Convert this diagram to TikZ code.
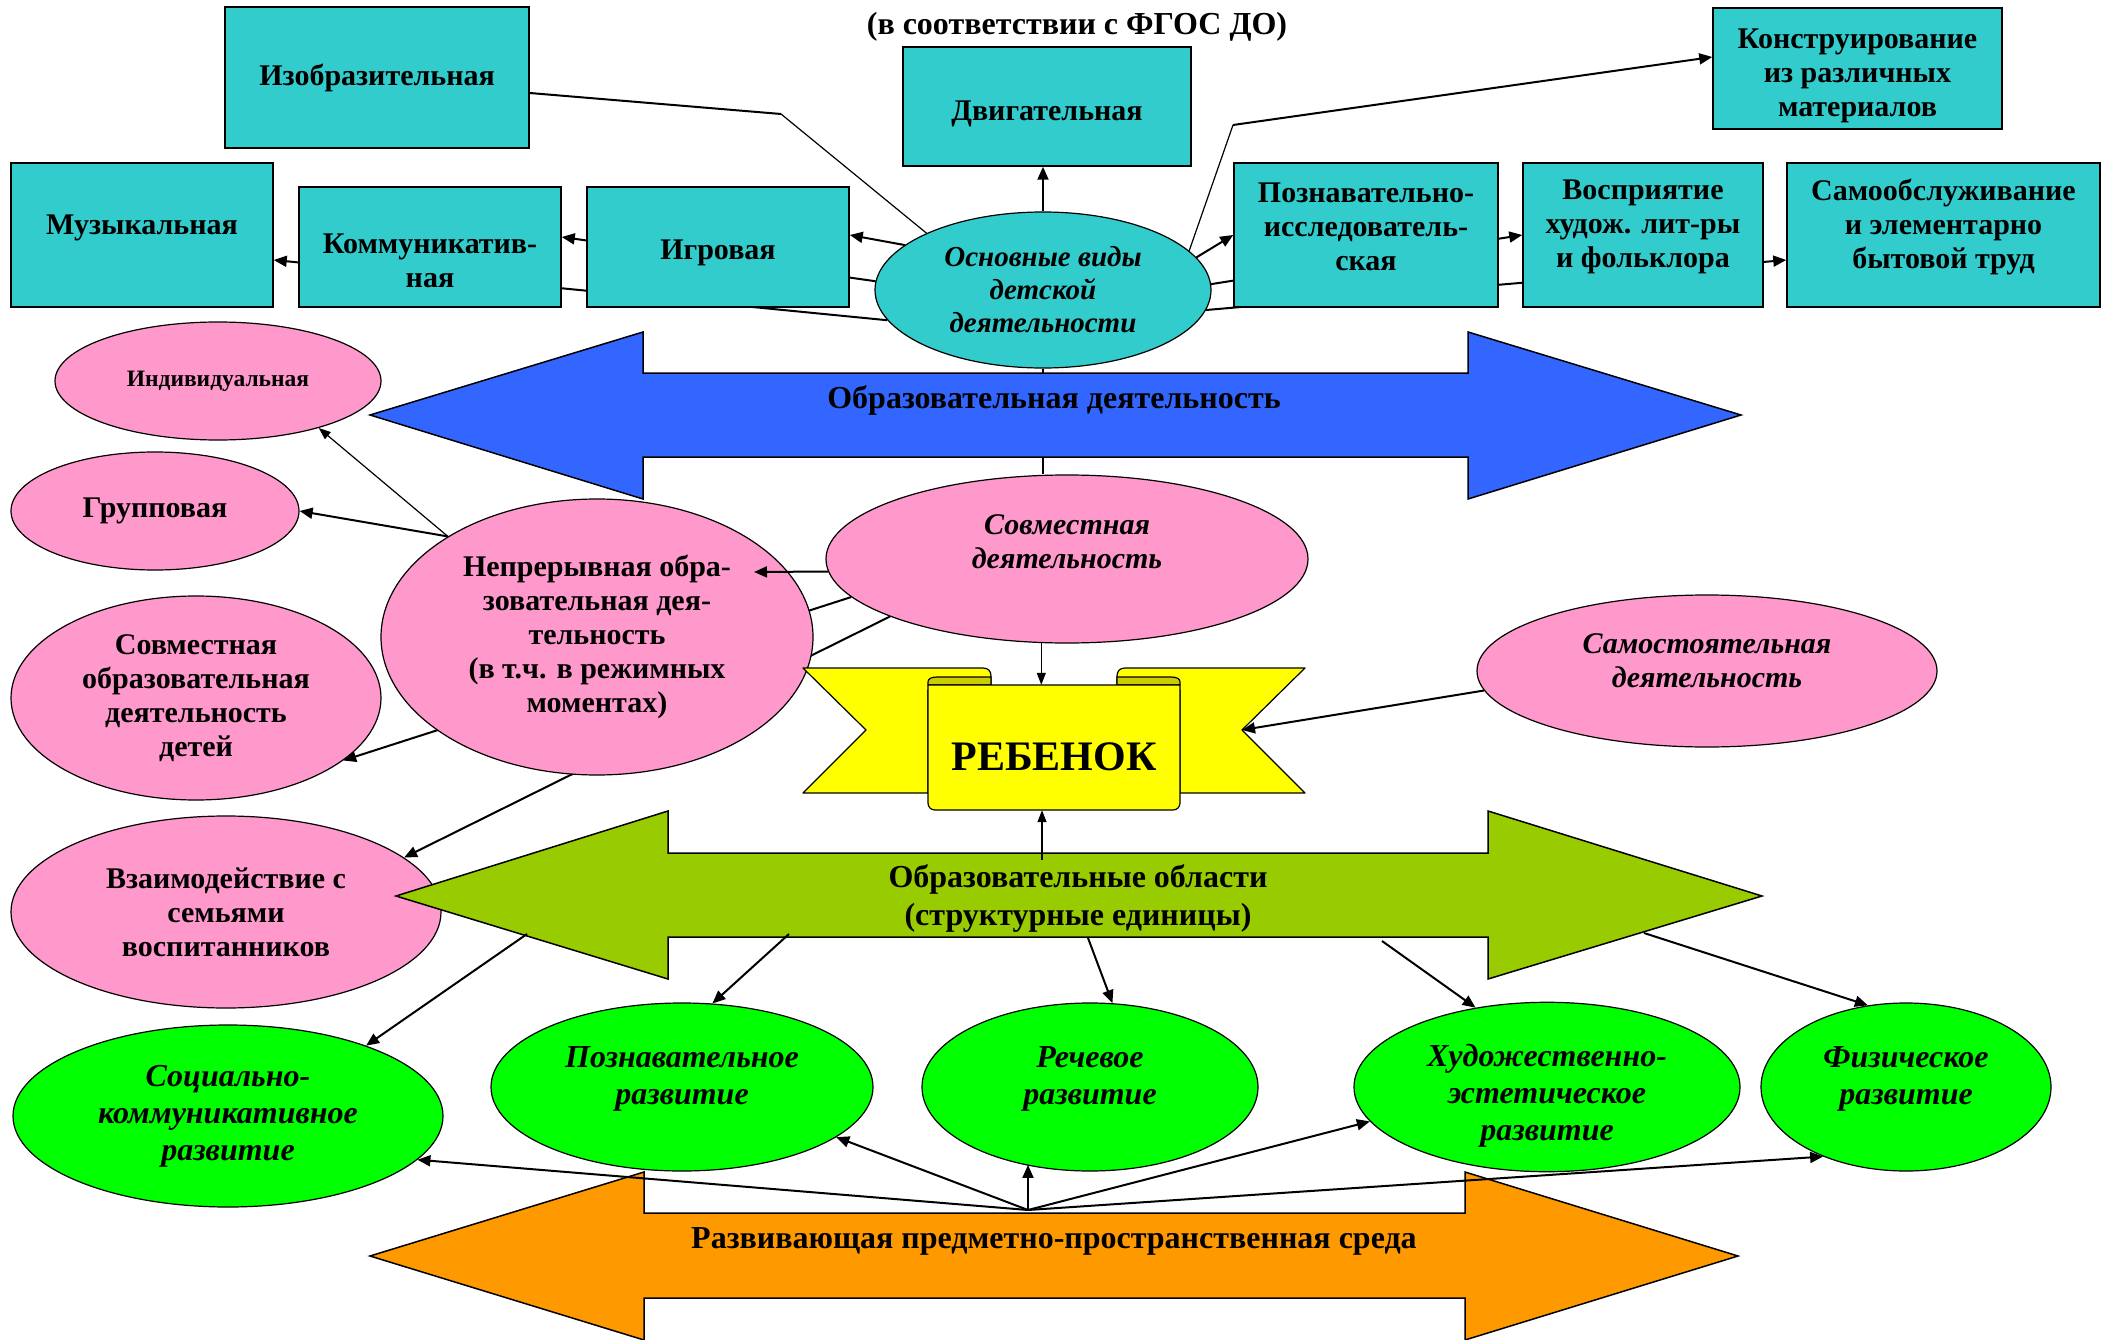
\documentclass[tikz,border=0pt]{standalone}
\usepackage{fontspec}
\setmainfont{Liberation Serif}
\usetikzlibrary{arrows.meta,shapes.geometric}
\definecolor{tealbox}{HTML}{33CCCC}
\definecolor{pinkell}{HTML}{FF99CC}
\definecolor{bluearr}{HTML}{3366FF}
\definecolor{ryellow}{HTML}{FFFF00}
\definecolor{rolive}{HTML}{CCCC00}
\definecolor{greenarr}{HTML}{99CC00}
\definecolor{greenell}{HTML}{00FF00}
\definecolor{orangearr}{HTML}{FF9900}
\pgfdeclarelayer{bg}
\pgfsetlayers{bg,main}
\begin{document}
\begin{tikzpicture}[x=1pt,y=-1pt,
  box/.style={draw, line width=1.5pt, fill=tealbox, align=center, inner sep=0pt, font=\fontsize{30}{34}\selectfont\bfseries},
  pell/.style={ellipse, draw, line width=1.2pt, fill=pinkell, align=center, inner sep=0pt, font=\fontsize{30}{34}\selectfont\bfseries},
  pelli/.style={pell, font=\fontsize{30}{34}\selectfont\bfseries\itshape},
  gell/.style={ellipse, draw, line width=1.2pt, fill=greenell, align=center, inner sep=0pt, font=\fontsize{32}{37}\selectfont\bfseries\itshape},
  conn/.style={line width=2pt, -{Triangle[length=13pt,width=11pt]}},
  thinconn/.style={line width=1.2pt, -{Triangle[length=12pt,width=9pt]}},
  plainln/.style={line width=2pt},
  thinln/.style={line width=1.2pt},
  bigarrow/.style={draw, line width=1.5pt, line join=miter},
  lbl/.style={align=center, font=\fontsize{32}{38}\selectfont\bfseries}
]
\useasboundingbox (0,0) rectangle (2110,1340);

% title
\node[font=\fontsize{32}{36}\selectfont\bfseries] (title) at (1077,27) {(в соответствии с ФГОС ДО)};

% top boxes
\node[box, minimum width=304pt, minimum height=141pt] (izo) at (377,77.5) {Изобразительная};
\node[box, minimum width=288pt, minimum height=119pt] (dvig) at (1047,106.5) {\mbox{}\\Двигательная};
\node[box, minimum width=289pt, minimum height=121pt] (konstr) at (1857.5,68.5) {\mbox{}\\Конструирование\\из различных\\материалов};
\node[box, minimum width=262pt, minimum height=144pt] (muz) at (142,235) {Музыкальная\\[-13pt]\mbox{}};
\node[box, minimum width=262pt, minimum height=120pt] (komm) at (430,247) {\mbox{}\\[13pt]Коммуникатив-\\ная};
\node[box, minimum width=262pt, minimum height=120pt] (igr) at (718,247) {\mbox{}\\[-3pt]Игровая};
\node[box, minimum width=264pt, minimum height=144pt] (pozn) at (1366,235) {Познавательно-\\исследователь-\\ская\\[-18pt]\mbox{}};
\node[box, minimum width=240pt, minimum height=144pt] (vospr) at (1643,235) {Восприятие\\худож. лит-ры\\и фольклора\\[-11.5pt]\mbox{}};
\node[box, minimum width=313pt, minimum height=144pt] (samo) at (1943.5,235) {Самообслуживание\\и элементарно\\бытовой труд\\[-11.5pt]\mbox{}};

\node[ellipse, draw, line width=1.2pt, fill=tealbox, minimum width=336pt, minimum height=156pt, inner sep=0pt, align=center, font=\fontsize{29}{33}\selectfont\bfseries\itshape] (osn) at (1043,290) {Основные виды\\детской\\деятельности};

% blue double arrow
\filldraw[bigarrow, fill=bluearr] (370,415) -- (643,332) -- (643,373) -- (1468,373) -- (1468,332) -- (1741,415) -- (1468,499) -- (1468,457) -- (643,457) -- (643,499) -- cycle;
\node[lbl] (obrd) at (1054,400) {Образовательная деятельность};

% pink ellipses
\node[pell, minimum width=326pt, minimum height=118pt, font=\fontsize{23.5}{28}\selectfont\bfseries] (indiv) at (218,381) {Индивидуальная};
\node[pell, minimum width=288pt, minimum height=118pt] (grupp) at (155,511) {Групповая};
\node[pell, minimum width=432pt, minimum height=276pt] (nepr) at (597,637) {Непрерывная обра-\\зовательная дея-\\тельность\\(в т.ч. в режимных\\моментах)};
\node[pell, minimum width=370pt, minimum height=204pt] (sovmobr) at (196,698) {Совместная\\образовательная\\деятельность\\детей};
\node[pell, minimum width=430pt, minimum height=192pt] (vzaim) at (226,912) {Взаимодействие с\\семьями\\воспитанников};
\node[pelli, minimum width=482pt, minimum height=168pt] (sovm) at (1067,559) {Совместная\\деятельность\\\mbox{}};
\node[pelli, minimum width=460pt, minimum height=152pt] (samost) at (1707,671) {Самостоятельная\\деятельность\\[-14pt]\mbox{}};

% ribbon
\filldraw[fill=ryellow, line width=1.2pt, line join=round] (803,668) -- (983,668) .. controls (988,668) and (991,671) .. (991,676) -- (991,690) -- (928,690) -- (928,793) -- (803,793) -- (866,730) -- cycle;
\filldraw[fill=ryellow, line width=1.2pt, line join=round] (1305,668) -- (1125,668) .. controls (1120,668) and (1117,671) .. (1117,676) -- (1117,690) -- (1180,690) -- (1180,793) -- (1305,793) -- (1242,730) -- cycle;
\filldraw[fill=rolive, line width=1.2pt, line join=round] (991,677) -- (937,677) .. controls (931,677) and (928,679) .. (928,682) -- (928,685) -- (991,685) -- cycle;
\filldraw[fill=rolive, line width=1.2pt, line join=round] (1117,677) -- (1171,677) .. controls (1177,677) and (1180,679) .. (1180,682) -- (1180,685) -- (1117,685) -- cycle;
\filldraw[fill=ryellow, line width=1.2pt, line join=round] (928,685) -- (928,803) .. controls (928,807) and (931,810) .. (935,810) -- (1173,810) .. controls (1177,810) and (1180,807) .. (1180,803) -- (1180,685) -- cycle;
\node[minimum width=252pt, minimum height=125pt, inner sep=0pt] (child) at (1054,747.5) {};
\node[font=\fontsize{42}{48}\selectfont\bfseries] (childtxt) at (1054,757) {РЕБЕНОК};
\coordinate (notchR) at (1242,730);

% green ellipses
\node[gell, minimum width=430pt, minimum height=182pt] (soc) at (228,1116) {Социально-\\коммуникативное\\развитие};
\node[gell, minimum width=382pt, minimum height=168pt] (pozr) at (682,1087) {Познавательное\\развитие\\[-14pt]\mbox{}};
\node[gell, minimum width=336pt, minimum height=168pt] (rech) at (1090,1087) {Речевое\\развитие\\[-14pt]\mbox{}};
\node[gell, minimum width=386pt, minimum height=168pt] (hud) at (1547,1087) {\mbox{}\\[2pt]Художественно-\\эстетическое\\развитие};
\node[gell, minimum width=290pt, minimum height=168pt] (fiz) at (1906,1087) {Физическое\\развитие\\[-14pt]\mbox{}};

% green double arrow
\filldraw[bigarrow, fill=greenarr] (396,896) -- (668,811) -- (668,853) -- (1488,853) -- (1488,811) -- (1762,896) -- (1488,979) -- (1488,937) -- (668,937) -- (668,979) -- cycle;
\node[lbl] (obro) at (1078,898) {Образовательные области\\(структурные единицы)};

% orange double arrow
\filldraw[bigarrow, fill=orangearr] (370,1256) -- (644,1172) -- (644,1213) -- (1465,1213) -- (1465,1172) -- (1738,1256) -- (1465,1340) -- (1465,1298) -- (644,1298) -- (644,1340) -- cycle;
\node[lbl] (rpps) at (1054,1241) {Развивающая предметно-пространственная среда};

% connectors hidden behind shapes
\begin{pgfonlayer}{bg}
\draw[thinln] (osn.south) -- (osn.south |- sovm.north);
\draw[conn] (osn.177.6) -- ([yshift=10pt]komm.east);
\draw[conn] (osn.191.7) -- ([yshift=-25pt]muz.east);
\draw[conn] (osn.2.7) -- (vospr.west);
\draw[conn] (osn.353.8) -- ([yshift=-25pt]samo.west);
\draw[conn] (sovm.190.2) -- (sovmobr.337);
\draw[conn] (sovm.198.2) -- (vzaim.17.8);
\end{pgfonlayer}

% visible connectors
\draw[conn] (osn.162.9) -- ([yshift=12pt]igr.east);
\draw[conn] (osn.north) -- (osn.north |- dvig.south);
\coordinate (izoc) at (781,114);
\draw[plainln] ([yshift=-15.5pt]izo.east) -- (izoc);
\draw[thinln] (izoc) -- (osn.154.6);
\coordinate (konc) at (1233,125);
\draw[thinln] (osn.15.8) -- (konc);
\draw[conn] (konc) -- ([yshift=11.5pt]konstr.west);
\draw[conn] (osn.12.25) -- (pozn.west);

\coordinate (neprin) at (754,572);
\draw[conn] (sovm.183.1) -- (neprin);
\draw[thinconn] (nepr.146.4) -- (indiv.335.7);
\draw[conn] (nepr.146.4) -- (grupp.east);
\draw[thinconn] (sovm.253.3) -- (sovm.253.3 |- child.north);
\draw[conn] (samost.185) -- (notchR);

\coordinate (gtop) at (1042,860);
\draw[thinconn] (gtop) -- (gtop |- child.south);
\coordinate (gA1) at (527,934);
\coordinate (gA2) at (789,934);
\coordinate (gA3) at (1088,938);
\coordinate (gA4) at (1382,941);
\coordinate (gA5) at (1644,933);
\draw[conn] (gA1) -- (soc.27);
\draw[conn] (gA2) -- (pozr.70.6);
\draw[conn] (gA3) -- (rech.75.5);
\draw[conn] (gA4) -- (hud.132.4);
\draw[conn] (gA5) -- (fiz.115.4);

\coordinate (oc) at (1028,1210);
\draw[conn] (oc) -- (soc.347.9);
\draw[conn] (oc) -- (pozr.342.5);
\draw[conn] (oc) -- (oc |- rech.230.4);
\draw[conn] (oc) -- (hud.191.5);
\draw[conn] (oc) -- (fiz.220.3);
\end{tikzpicture}
\end{document}
